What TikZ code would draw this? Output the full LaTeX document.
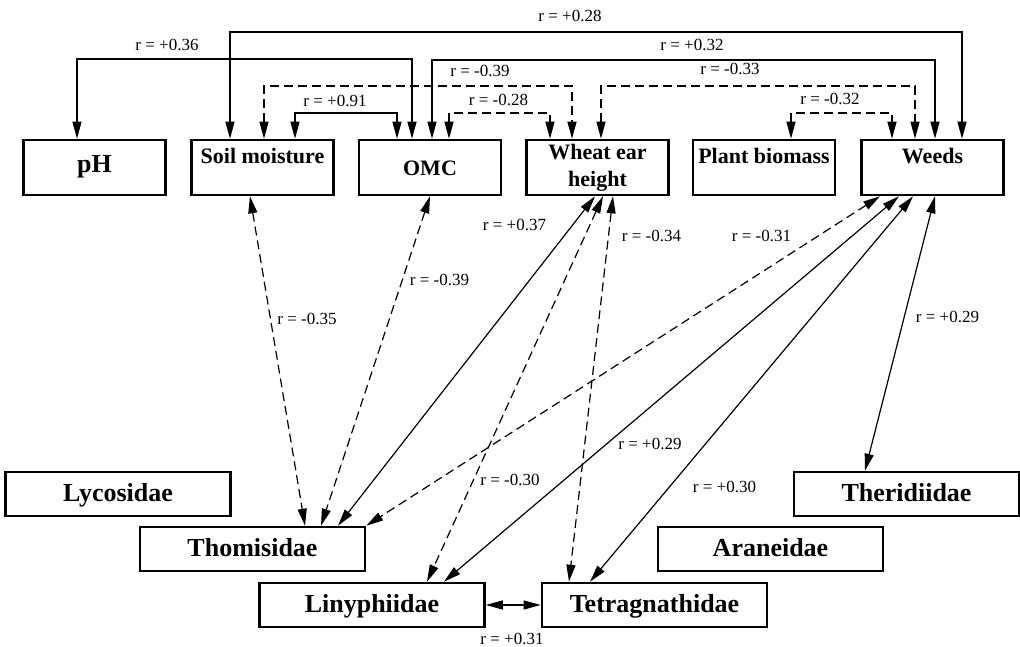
\documentclass[tikz,border=0pt]{standalone}
\usepackage{fontspec}
\setmainfont{Liberation Serif}
\usetikzlibrary{arrows.meta,calc}
\begin{document}
\begin{tikzpicture}[x=1pt,y=-1pt,
  box/.style={draw, line width=2.6pt, inner sep=0pt, font=\bfseries\fontsize{22}{24}\selectfont},
  topbox/.style={box, minimum width=142pt, minimum height=55pt},
  botbox/.style={box, minimum width=225pt, minimum height=44pt, font=\bfseries\fontsize{26}{28}\selectfont, text height=20pt, text depth=6pt},
  conn/.style={line width=1.2pt, {Triangle[length=17pt,width=9pt]}-{Triangle[length=17pt,width=9pt]}},
  dsh/.style={dash pattern=on 9pt off 5pt},
  lab/.style={font=\fontsize{17}{19}\selectfont, anchor=base, inner sep=0pt}
]
\useasboundingbox (0,0) rectangle (1020,647);

% top boxes
\node[topbox, font=\bfseries\fontsize{26}{28}\selectfont, text height=15.5pt, text depth=4.5pt] (ph) at (94.5,167.5) {pH};
\node[topbox, text height=6pt, text depth=14pt] (soil) at (262.5,167.5) {Soil moisture};
\node[topbox, text height=18.5pt, text depth=1.5pt] (omc) at (430,167.5) {OMC};
\node[topbox, align=center, font=\bfseries\fontsize{22}{27}\selectfont] (wheat) at (597.5,167.5) {Wheat ear\\height};
\node[topbox, text height=6pt, text depth=14pt] (plant) at (764,167.5) {Plant biomass};
\node[topbox, text height=6pt, text depth=14pt] (weeds) at (932.5,167.5) {Weeds};

% bottom boxes
\node[botbox] (lyco) at (118,494) {Lycosidae};
\node[botbox] (thom) at (252.5,549) {Thomisidae};
\node[botbox] (liny) at (372,605) {Linyphiidae};
\node[botbox] (tetra) at (654.5,605) {Tetragnathidae};
\node[botbox] (aran) at (770.5,549) {Araneidae};
\node[botbox] (theri) at (906.5,494) {Theridiidae};

% top connectors
\draw[conn] ([xshift=-32.5pt]soil.north) -- ++(0,-106.7) -| ([xshift=29.5pt]weeds.north);
\draw[conn] ([xshift=-17.5pt]ph.north) -- ++(0,-79.7) -| ([xshift=-18pt]omc.north);
\draw[conn] ([xshift=2pt]omc.north) -- ++(0,-78.7) -| ([xshift=2.5pt]weeds.north);
\draw[conn,dsh] ([xshift=1.5pt]soil.north) -- ++(0,-52.7) -| ([xshift=-25.5pt]wheat.north);
\draw[conn] ([xshift=32.5pt]soil.north) -- ++(0,-25.7) -| ([xshift=-33pt]omc.north);
\draw[conn,dsh] ([xshift=19pt]omc.north) -- ++(0,-25.7) -| ([xshift=-47.5pt]wheat.north);
\draw[conn,dsh] ([xshift=3.5pt]wheat.north) -- ++(0,-52.7) -| ([xshift=-17.5pt]weeds.north);
\draw[conn,dsh] ([xshift=27pt]plant.north) -- ++(0,-25.7) -| ([xshift=-40.5pt]weeds.north);

% diagonal connectors
\draw[conn,dsh] ([xshift=-12.5pt]soil.south) -- ([xshift=52.5pt]thom.north);
\draw[conn,dsh] (omc.south) -- ([xshift=68.5pt]thom.north);
\draw[conn] ([xshift=-2.5pt]wheat.south) -- ([xshift=85.5pt]thom.north);
\draw[conn,dsh] ([xshift=5.5pt]wheat.south) -- ([xshift=55pt]liny.north);
\draw[conn,dsh] ([xshift=15.5pt]wheat.south) -- ([xshift=-85.5pt]tetra.north);
\draw[conn,dsh] ([xshift=-52.5pt]weeds.south) -- (thom.north east);
\draw[conn] ([xshift=-33.5pt]weeds.south) -- ([xshift=72pt]liny.north);
\draw[conn] ([xshift=-19.5pt]weeds.south) -- ([xshift=-64.5pt]tetra.north);
\draw[conn] ([xshift=2.5pt]weeds.south) -- ([xshift=-41.5pt]theri.north);
\draw[conn] (liny.east) -- (tetra.west);

% labels
\node[lab] (l1) at (570,22) {r = +0.28};
\node[lab] (l2) at (167,51) {r = +0.36};
\node[lab] (l3) at (692,51) {r = +0.32};
\node[lab] (l4) at (480,77) {r = -0.39};
\node[lab] (l5) at (335,107) {r = +0.91};
\node[lab] (l6) at (498.5,106) {r = -0.28};
\node[lab] (l7) at (730,75) {r = -0.33};
\node[lab] (l8) at (830,105) {r = -0.32};
\node[lab] (l9) at (307,324) {r = -0.35};
\node[lab] (l10) at (439.5,285) {r = -0.39};
\node[lab] (l11) at (514.5,230) {r = +0.37};
\node[lab] (l12) at (651.5,242) {r = -0.34};
\node[lab] (l13) at (761.5,242) {r = -0.31};
\node[lab] (l14) at (947.5,322) {r = +0.29};
\node[lab] (l15) at (510,485) {r = -0.30};
\node[lab] (l16) at (650,449) {r = +0.29};
\node[lab] (l17) at (724.5,492) {r = +0.30};
\node[lab] (l18) at (512,644) {r = +0.31};
\end{tikzpicture}
\end{document}
